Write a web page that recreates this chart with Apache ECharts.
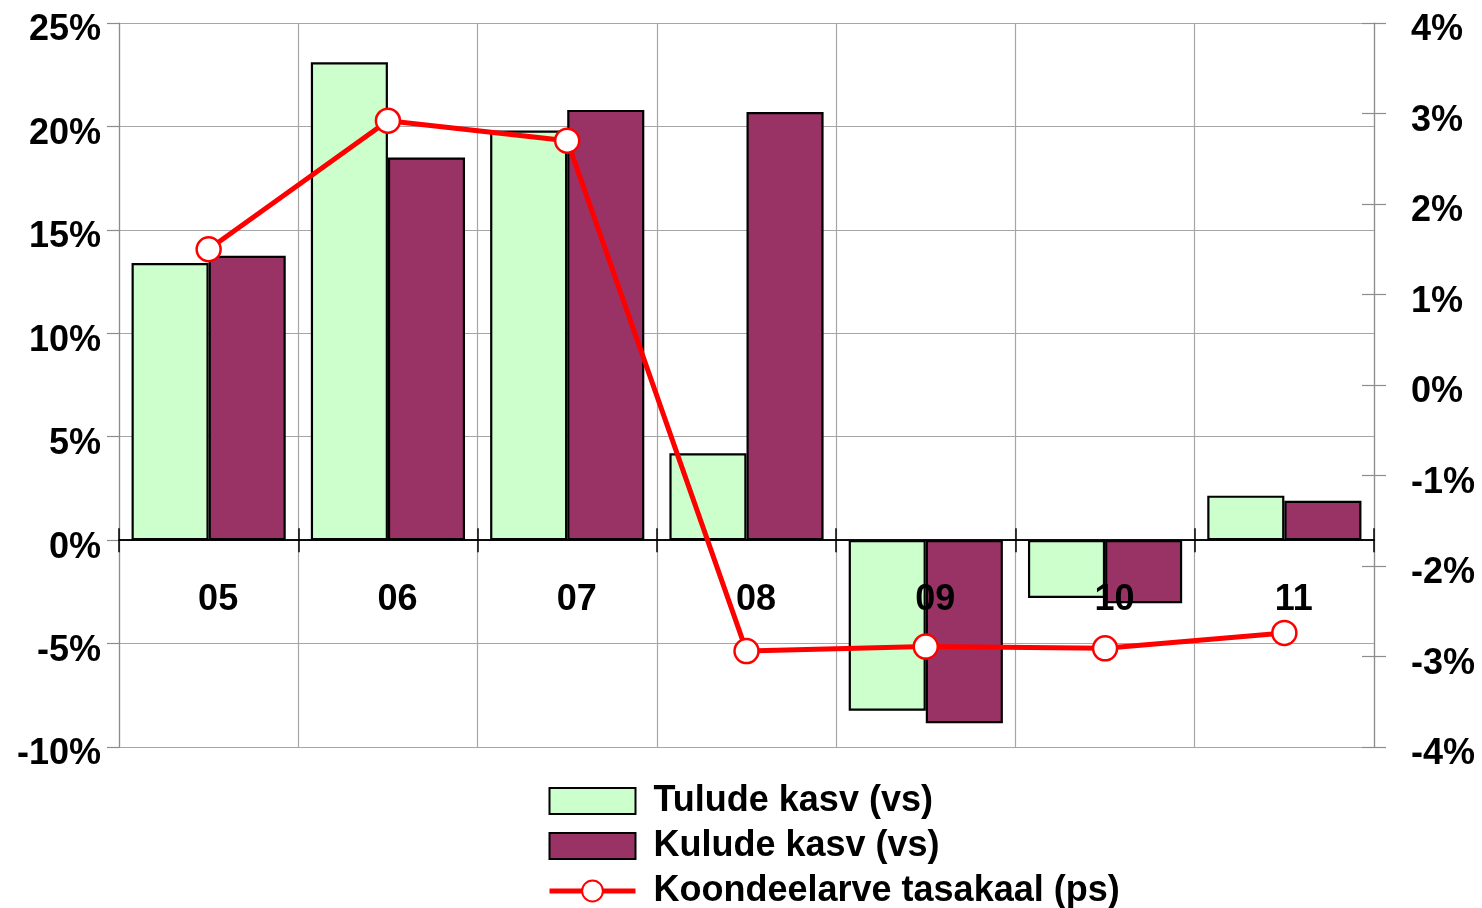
<!DOCTYPE html>
<html>
<head>
<meta charset="utf-8">
<script src="https://cdn.jsdelivr.net/npm/echarts@6/dist/echarts.min.js"></script>
<style>
  html, body { margin: 0; padding: 0; background: #fff; }
  #chart { width: 1482px; height: 908px; }
</style>
</head>
<body>
<div id="chart"></div>
<script>
// Years (two-digit)
const years = ['05', '06', '07', '08', '09', '10', '11'];
// Revenue growth, % (left axis)
const tuludeKasv = [13.4, 23.1, 19.8, 4.2, -8.25, -2.8, 2.15];
// Expenditure growth, % (left axis)
const kuludeKasv = [13.75, 18.5, 20.8, 20.7, -8.85, -3.05, 1.9];
// Consolidated budget balance, % (right axis)
const koondeelarveTasakaal = [1.5, 2.92, 2.7, -2.94, -2.89, -2.91, -2.74];

const seriesNames = ['Tulude kasv (vs)', 'Kulude kasv (vs)', 'Koondeelarve tasakaal (ps)'];

const FONT = '"Liberation Sans", Arial, sans-serif';
const GRID_GREY = '#a6a6a6';
const AXIS_GREY = '#8c8c8c';

const chart = echarts.init(document.getElementById('chart'), null, { renderer: 'canvas' });

// value-axis labels sit a little below their tick
const valueLabel = (margin) => ({
  formatter: '{value}%', margin: margin,
  verticalAlign: 'top', lineHeight: 15,
  fontFamily: FONT, fontSize: 36, fontWeight: 'bold', color: '#000'
});

chart.setOption({
  animation: false,
  backgroundColor: '#ffffff',
  textStyle: { fontFamily: FONT },
  grid: { left: 119, right: 108, top: 23, bottom: 161, containLabel: false },
  legend: {
    orient: 'vertical',
    left: 547,
    top: 783,
    width: 700,
    height: 200,
    padding: 0,
    itemWidth: 86,
    itemHeight: 26,
    itemGap: 9,
    textStyle: {
      fontFamily: FONT, fontSize: 36, fontWeight: 'bold', color: '#000',
      lineHeight: 34, padding: [0, 0, 0, 13]
    },
    data: [
      { name: seriesNames[0], icon: 'rect' },
      { name: seriesNames[1], icon: 'rect' },
      { name: seriesNames[2], lineStyle: { width: 5 } }
    ]
  },
  xAxis: [
    {
      // category axis on the 0% line with vertical grid, ticks pointing down
      type: 'category',
      data: years,
      boundaryGap: true,
      axisLine: { onZero: true, onZeroAxisIndex: 0, lineStyle: { color: '#000', width: 1.5 } },
      axisTick: { show: true, length: 12, inside: false, lineStyle: { color: '#000', width: 1.5 } },
      axisLabel: { show: false },
      splitLine: { show: true, lineStyle: { color: GRID_GREY, width: 1.2 } }
    },
    {
      // twin axis on the same 0% line, ticks pointing up
      type: 'category',
      data: years,
      position: 'top',
      boundaryGap: true,
      axisLine: { onZero: true, onZeroAxisIndex: 3, lineStyle: { color: '#000', width: 1.5 } },
      axisTick: { show: true, length: 12, inside: false, lineStyle: { color: '#000', width: 1.5 } },
      axisLabel: { show: false },
      splitLine: { show: false }
    },
    {
      // year labels just under the 0% line, drawn above the bars
      type: 'category',
      data: years,
      position: 'bottom',
      boundaryGap: true,
      z: 10,
      axisLine: { show: false, onZero: false },
      axisTick: { show: false },
      axisLabel: {
        margin: -165, fontFamily: FONT, fontSize: 36, fontWeight: 'bold', color: '#000',
        padding: [0, 0, 0, 19]
      },
      splitLine: { show: false }
    }
  ],
  yAxis: [
    {
      type: 'value',
      min: -10, max: 25, interval: 5,
      axisLine: { show: true, lineStyle: { color: AXIS_GREY, width: 1.2 } },
      axisTick: { show: true, length: 12, lineStyle: { color: AXIS_GREY, width: 1.2 } },
      axisLabel: valueLabel(18),
      splitLine: { show: true, lineStyle: { color: GRID_GREY, width: 1.2 } }
    },
    {
      type: 'value',
      position: 'right',
      min: -4, max: 4, interval: 1,
      axisLine: { show: true, lineStyle: { color: AXIS_GREY, width: 1.2 } },
      axisTick: { show: true, length: 12, lineStyle: { color: AXIS_GREY, width: 1.2 } },
      axisLabel: valueLabel(37),
      splitLine: { show: false }
    },
    {
      type: 'value',
      position: 'right',
      min: -4, max: 4, interval: 1,
      axisLine: { show: false },
      axisTick: { show: true, inside: true, length: 12, lineStyle: { color: AXIS_GREY, width: 1.2 } },
      axisLabel: { show: false },
      splitLine: { show: false }
    },
    {
      // hidden copy of the left scale for the upper tick row of the 0% line
      type: 'value',
      position: 'left',
      min: -10, max: 25, interval: 5,
      axisLine: { show: false },
      axisTick: { show: false },
      axisLabel: { show: false },
      splitLine: { show: false }
    }
  ],
  series: [
    {
      name: seriesNames[0],
      type: 'bar',
      xAxisIndex: 0, yAxisIndex: 0,
      data: tuludeKasv,
      barGap: '0%',
      barCategoryGap: '14%',
      itemStyle: { color: '#CCFFCC', borderColor: '#000', borderWidth: 2.2 },
      z: 2
    },
    {
      name: seriesNames[1],
      type: 'bar',
      xAxisIndex: 0, yAxisIndex: 0,
      data: kuludeKasv,
      barGap: '0%',
      barCategoryGap: '14%',
      itemStyle: { color: '#993366', borderColor: '#000', borderWidth: 2.2 },
      z: 2
    },
    {
      name: seriesNames[2],
      type: 'line',
      xAxisIndex: 0, yAxisIndex: 1,
      data: koondeelarveTasakaal,
      symbol: 'circle',
      symbolSize: 24,
      showAllSymbol: true,
      lineStyle: { color: '#FF0000', width: 5 },
      itemStyle: { color: '#FFFFFF', borderColor: '#FF0000', borderWidth: 2.5 },
      z: 5
    }
  ]
});
</script>
</body>
</html>
